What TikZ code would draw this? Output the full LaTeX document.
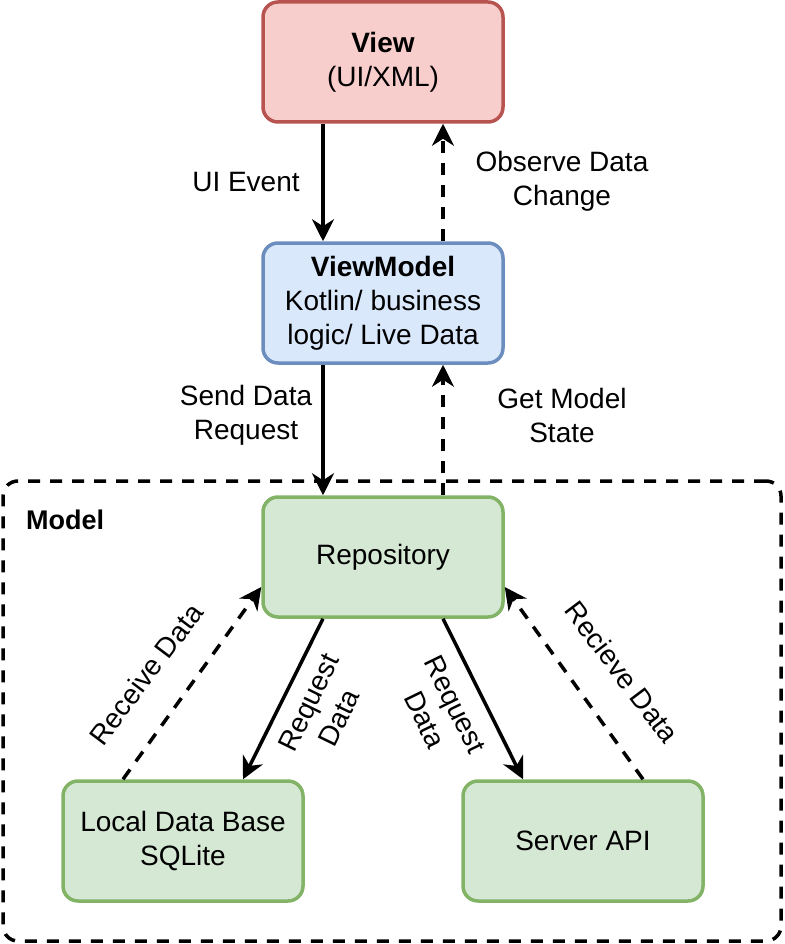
\documentclass[tikz,border=0pt]{standalone}
\usepackage{fontspec}
\setmainfont{Liberation Sans}
\usetikzlibrary{arrows.meta}
\definecolor{redfill}{HTML}{F8CECC}
\definecolor{reddraw}{HTML}{B85450}
\definecolor{bluefill}{HTML}{DAE8FC}
\definecolor{bluedraw}{HTML}{6C8EBF}
\definecolor{greenfill}{HTML}{D5E8D4}
\definecolor{greendraw}{HTML}{82B366}
\tikzset{
  box/.style={draw, line width=3.5pt, rounded corners=15pt, minimum width=240pt, minimum height=120pt, align=center, inner sep=0pt},
  lbl/.style={align=center},
  solidarrow/.style={line width=3.5pt, -{Stealth[length=22pt,width=22pt,inset=7pt]}},
  dasharrow/.style={line width=3.5pt, dash pattern=on 12pt off 10pt, -{Stealth[length=22pt,width=22pt,inset=7pt]}},
}
\begin{document}
\begin{tikzpicture}[x=1pt,y=-1pt, font=\fontsize{28}{34}\selectfont]
\useasboundingbox (0,0) rectangle (784,944);
\node[draw, line width=3.5pt, dash pattern=on 12pt off 10pt, rounded corners=15pt, minimum width=778pt, minimum height=460pt, inner sep=0pt] (model) at (392,711) {};
\node[anchor=west, font=\fontsize{27}{32}\selectfont\bfseries, inner sep=0pt] (modellbl) at (26,520) {Model};

\node[box, fill=redfill, draw=reddraw] (view) at (383,62) {\textbf{View}\\(UI/XML)};
\node[box, fill=bluefill, draw=bluedraw] (vm) at (383,303) {\textbf{ViewModel}\\Kotlin/ business\\logic/ Live Data};
\node[box, fill=greenfill, draw=greendraw] (repo) at (383,557) {Repository};
\node[box, fill=greenfill, draw=greendraw] (local) at (183,841) {Local Data Base\\SQLite};
\node[box, fill=greenfill, draw=greendraw] (server) at (583,841) {Server API};

\draw[solidarrow] ([xshift=-60pt]view.south) -- ([xshift=-60pt]vm.north);
\draw[dasharrow] ([xshift=60pt]vm.north) -- ([xshift=60pt]view.south);
\draw[solidarrow] ([xshift=-60pt]vm.south) -- ([xshift=-60pt]repo.north);
\draw[dasharrow] ([xshift=60pt]repo.north) -- ([xshift=60pt]vm.south);
\draw[solidarrow] ([xshift=-60pt]repo.south) -- ([xshift=60pt]local.north);
\draw[solidarrow] ([xshift=60pt]repo.south) -- ([xshift=-60pt]server.north);
\draw[dasharrow] ([xshift=-60pt]local.north) -- ([yshift=-30pt]repo.west);
\draw[dasharrow] ([xshift=60pt]server.north) -- ([yshift=-30pt]repo.east);

\node[lbl] (l1) at (246,182) {UI Event};
\node[lbl] (l2) at (562,181) {Observe Data\\Change};
\node[lbl] (l3) at (246,415) {Send Data\\Request};
\node[lbl] (l4) at (562,415) {Get Model\\State};
\node[lbl, rotate=53] (l5) at (146,674) {Receive Data};
\node[lbl, rotate=64] (l6) at (324,710) {Request\\Data};
\node[lbl, rotate=-64] (l7) at (440,712) {Request\\Data};
\node[lbl, rotate=-53] (l8) at (622,672) {Recieve Data};
\end{tikzpicture}
\end{document}
